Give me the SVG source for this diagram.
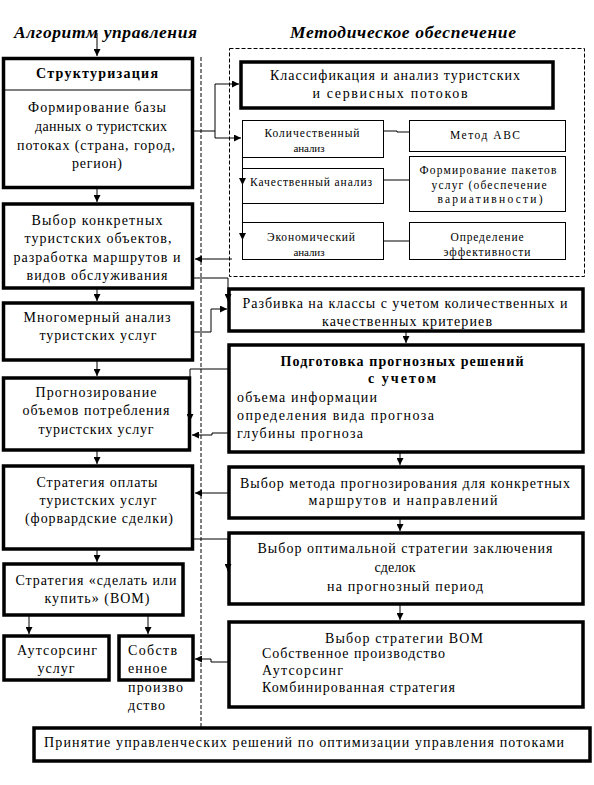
<svg xmlns="http://www.w3.org/2000/svg" width="594" height="785" viewBox="0 0 594 785">
<style>
text{font-family:'Liberation Serif','Times New Roman',serif;fill:#000}
.t{font-size:14px}
.c{text-anchor:middle}
.s{font-size:11.5px}
.xs{font-size:11px}
.b{font-weight:bold}
.h{font-size:17.5px;font-weight:bold;font-style:italic}
.thick{fill:#fff;stroke:#000;stroke-width:3.5}
.thin{fill:#fff;stroke:#000;stroke-width:1}
.dash{fill:none;stroke:#000;stroke-width:1;stroke-dasharray:4 2}
.con path{fill:none;stroke:#000;stroke-width:1}
</style>
<defs>
<marker id="ah" viewBox="0 0 8 8" refX="8" refY="4" markerWidth="7" markerHeight="7" orient="auto" markerUnits="userSpaceOnUse"><path d="M0,0 L8,4 L0,8 z" fill="#000"/></marker>
</defs>
<rect width="594" height="785" fill="#fff"/>
<text class="h" x="14" y="38" textLength="183">Алгоритм управления</text>
<text class="h" x="290" y="38" textLength="226">Методическое обеспечение</text>
<line class="dash" x1="201" y1="57" x2="201" y2="727"/>
<rect id="container" class="dash" x="229.5" y="48.5" width="355" height="228"/>

<g id="n1">
<rect class="thick" x="3.5" y="58.5" width="189" height="129"/>
<line x1="3" y1="90" x2="192" y2="90" stroke="#000" stroke-width="1"/>
<text class="t c b" x="97" y="78" textLength="122">Структуризация</text>
<text class="t c" x="97" y="112" textLength="138">Формирование базы</text>
<text class="t c" x="101" y="131" textLength="132">данных о туристских</text>
<text class="t c" x="96" y="150" textLength="158">потоках (страна, город,</text>
<text class="t c" x="97" y="168" textLength="50">регион)</text>
</g>
<g id="n2">
<rect class="thick" x="3.5" y="204" width="189" height="84"/>
<text class="t c" x="97" y="225" textLength="131">Выбор конкретных</text>
<text class="t c" x="98" y="243" textLength="147">туристских объектов,</text>
<text class="t c" x="97" y="262" textLength="167">разработка маршрутов и</text>
<text class="t c" x="97" y="280" textLength="141">видов обслуживания</text>
</g>
<g id="n3">
<rect class="thick" x="3.5" y="303" width="189" height="57"/>
<text class="t c" x="97" y="322" textLength="147">Многомерный анализ</text>
<text class="t c" x="98" y="340" textLength="117">туристских услуг</text>
</g>
<g id="n4">
<rect class="thick" x="3.5" y="378" width="186" height="72"/>
<text class="t c" x="96" y="397" textLength="121">Прогнозирование</text>
<text class="t c" x="96" y="415" textLength="147">объемов потребления</text>
<text class="t c" x="96" y="434" textLength="115">туристских услуг</text>
</g>
<g id="n5">
<rect class="thick" x="3.5" y="466" width="189" height="83"/>
<text class="t c" x="97" y="487" textLength="121">Стратегия оплаты</text>
<text class="t c" x="98" y="505" textLength="117">туристских услуг</text>
<text class="t c" x="99" y="523" textLength="148">(форвардские сделки)</text>
</g>
<g id="n6">
<rect class="thick" x="4" y="564" width="179" height="51"/>
<text class="t c" x="96" y="585" textLength="161">Стратегия «сделать или</text>
<text class="t c" x="97" y="603" textLength="105">купить» (ВОМ)</text>
</g>
<g id="n7">
<rect class="thick" x="4" y="636" width="105" height="44"/>
<text class="t c" x="57" y="655" textLength="80">Аутсорсинг</text>
<text class="t c" x="56" y="673" textLength="37">услуг</text>
</g>
<g id="n8">
<rect class="thick" x="119" y="636" width="74" height="44"/>
<text class="t" x="128" y="655" textLength="49">Собств</text>
<text class="t" x="128" y="673" textLength="39">енное</text>
<text class="t" x="128" y="692" textLength="55">произво</text>
<text class="t" x="128" y="710" textLength="37">дство</text>
</g>
<g id="n9">
<rect class="thick" x="34" y="728" width="556" height="33"/>
<text class="t" x="44" y="747" textLength="520">Принятие управленческих решений по оптимизации управления потоками</text>
</g>

<g id="r1">
<rect class="thick" x="241" y="62" width="312" height="46"/>
<text class="t c" x="395" y="80" textLength="250">Классификация и анализ туристских</text>
<text class="t c" x="390" y="98" textLength="155">и сервисных потоков</text>
</g>
<g id="r2">
<rect class="thin" x="242.5" y="120.5" width="141" height="37"/>
<text class="s c" x="312" y="137" textLength="95">Количественный</text>
<text class="xs c" x="309" y="152" textLength="31">анализ</text>
</g>
<g id="r3">
<rect class="thin" x="242.5" y="168.5" width="141" height="35"/>
<text class="s" x="250" y="186" textLength="122">Качественный анализ</text>
</g>
<g id="r4">
<rect class="thin" x="242.5" y="222.5" width="141" height="37"/>
<text class="s c" x="311" y="241" textLength="88">Экономический</text>
<text class="xs c" x="309" y="256" textLength="31">анализ</text>
</g>
<g id="r5">
<rect class="thin" x="409.5" y="120.5" width="156" height="31"/>
<text class="s c" x="485" y="139" textLength="70">Метод АВС</text>
</g>
<g id="r6">
<rect class="thin" x="409.5" y="156.5" width="156" height="55"/>
<text class="s c" x="488" y="174" textLength="137">Формирование пакетов</text>
<text class="s c" x="489" y="189" textLength="115">услуг (обеспечение</text>
<text class="s c" x="490" y="203" textLength="105">вариативности)</text>
</g>
<g id="r7">
<rect class="thin" x="409.5" y="222.5" width="156" height="37"/>
<text class="s c" x="487" y="241" textLength="73">Определение</text>
<text class="s c" x="487" y="256" textLength="87">эффективности</text>
</g>
<g id="r8">
<rect class="thick" x="229" y="289" width="354" height="42"/>
<text class="t c" x="405" y="308" textLength="325">Разбивка на классы с учетом количественных и</text>
<text class="t c" x="407" y="326" textLength="170">качественных критериев</text>
</g>
<g id="r9">
<rect class="thick" x="229" y="345" width="354" height="107"/>
<text class="t c b" x="402" y="366" textLength="243">Подготовка прогнозных решений</text>
<text class="t c b" x="402" y="383" textLength="68">с учетом</text>
<text class="t" x="237" y="402" textLength="140">объема информации</text>
<text class="t" x="237" y="420" textLength="197">определения вида прогноза</text>
<text class="t" x="237" y="438" textLength="126">глубины прогноза</text>
</g>
<g id="r10">
<rect class="thick" x="229" y="467" width="354" height="51"/>
<text class="t c" x="405" y="488" textLength="330">Выбор метода прогнозирования для конкретных</text>
<text class="t c" x="403" y="505" textLength="189">маршрутов и направлений</text>
</g>
<g id="r11">
<rect class="thick" x="229" y="533" width="354" height="71"/>
<text class="t c" x="405" y="553" textLength="295">Выбор оптимальной стратегии заключения</text>
<text class="t c" x="395" y="572" textLength="41">сделок</text>
<text class="t c" x="405" y="591" textLength="156">на прогнозный период</text>
</g>
<g id="r12">
<rect class="thick" x="229" y="622" width="354" height="85"/>
<text class="t c" x="404" y="643" textLength="158">Выбор стратегии ВОМ</text>
<text class="t" x="262" y="658" textLength="183">Собственное производство</text>
<text class="t" x="262" y="675" textLength="81">Аутсорсинг</text>
<text class="t" x="262" y="692" textLength="193">Комбинированная стратегия</text>
</g>

<g id="connectors" class="con">
<path d="M97,33 V56" marker-end="url(#ah)"/>
<path d="M97,189 V202" marker-end="url(#ah)"/>
<path d="M97,289 V301" marker-end="url(#ah)"/>
<path d="M97,361 V376" marker-end="url(#ah)"/>
<path d="M97,451 V464" marker-end="url(#ah)"/>
<path d="M97,550 V562" marker-end="url(#ah)"/>
<path d="M29,616 V634" marker-end="url(#ah)"/>
<path d="M148,616 V634" marker-end="url(#ah)"/>
<path d="M406,332 V343" marker-end="url(#ah)"/>
<path d="M400,453 V465" marker-end="url(#ah)"/>
<path d="M400,519 V531" marker-end="url(#ah)"/>
<path d="M400,605 V620" marker-end="url(#ah)"/>
<path d="M193,131 H215 V84 H239" marker-end="url(#ah)"/>
<path d="M215,131 V138 H241" marker-end="url(#ah)"/>
<path d="M242.5,157 V185" marker-end="url(#ah)"/>
<path d="M242.5,204 V240" marker-end="url(#ah)"/>
<path d="M384,131 H397 V132 H409"/>
<path d="M384,180 H409"/>
<path d="M384,241 H409"/>
<path d="M232,259 H195" marker-end="url(#ah)"/>
<path d="M193,278 H228 V301" marker-end="url(#ah)"/>
<path d="M193,332 H211 V309 H227" marker-end="url(#ah)"/>
<path d="M229,369 H190 V421" marker-end="url(#ah)"/>
<path d="M229,433 H212 V435 H192" marker-end="url(#ah)"/>
<path d="M229,493 H195" marker-end="url(#ah)"/>
<path d="M193,539 H228 V571" marker-end="url(#ah)"/>
<path d="M229,662 H211 V659 H195" marker-end="url(#ah)"/>
</g>
</svg>
